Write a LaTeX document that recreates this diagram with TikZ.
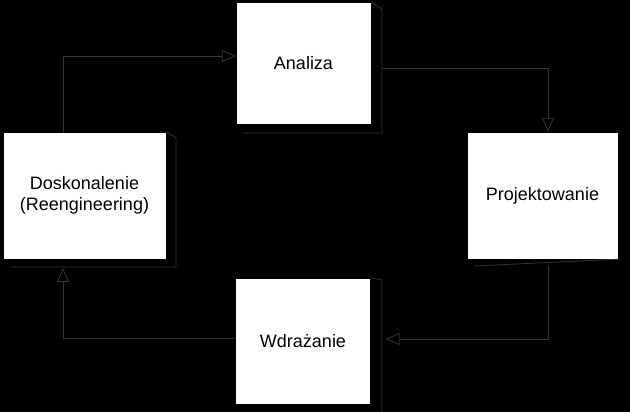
\documentclass[tikz,border=0pt]{standalone}
\usepackage{fontspec}
\setmainfont{Liberation Sans}
\usetikzlibrary{arrows.meta}
\begin{document}
\begin{tikzpicture}[x=1pt,y=-1pt,
        main node/.style={draw=black, fill=white, minimum width=135pt, minimum height=122pt, inner sep=0pt, align=center, font=\fontsize{18}{21}\selectfont},
        flow/.style={draw=black!80!white, line width=0.8pt, -{Triangle[open, length=14pt, width=12pt]}},
        shade line/.style={draw=black!80!white, line width=0.8pt},
    ]
    \fill[black] (0,0) rectangle (630,412);

    \node[main node] (A) at (303.5,63.5) {Analiza};
    \node[main node, minimum width=163pt, minimum height=127pt] (D) at (84.5,195.5) {Doskonalenie\\(Reengineering)};
    \node[main node, minimum width=151pt, minimum height=127pt] (P) at (542.5,195.5) {Projektowanie};
    \node[main node, minimum height=126pt] (W) at (303,341) {Wdrażanie};

    % shadows
    \draw[shade line] (242,133) -- (382,133) -- (382,9) -- (A.north east);
    \draw[shade line] (10,267) -- (176,267) -- (176,138) -- (D.north east);
    \draw[shade line] (474,266) -- (P.south east);
    \draw[shade line] (382,412) -- (382,280) -- (W.north east);

    \coordinate (c1) at (63,56);
    \coordinate (c2) at (382,68);
    \coordinate (c3) at (548,68);
    \coordinate (c4) at (548,339);
    \coordinate (c5) at (63,338);

    \draw[flow] (D.north -| c1) -- (c1) -- (A.west |- c1);
    \draw[flow] (c2) -- (c3) -- (P.north -| c3);
    \draw[flow] (548,266) -- (c4) -- ([xshift=15pt]W.east |- c4);
    \draw[flow] (W.west |- c5) -- (c5) -- (63,268);
\end{tikzpicture}
\end{document}
